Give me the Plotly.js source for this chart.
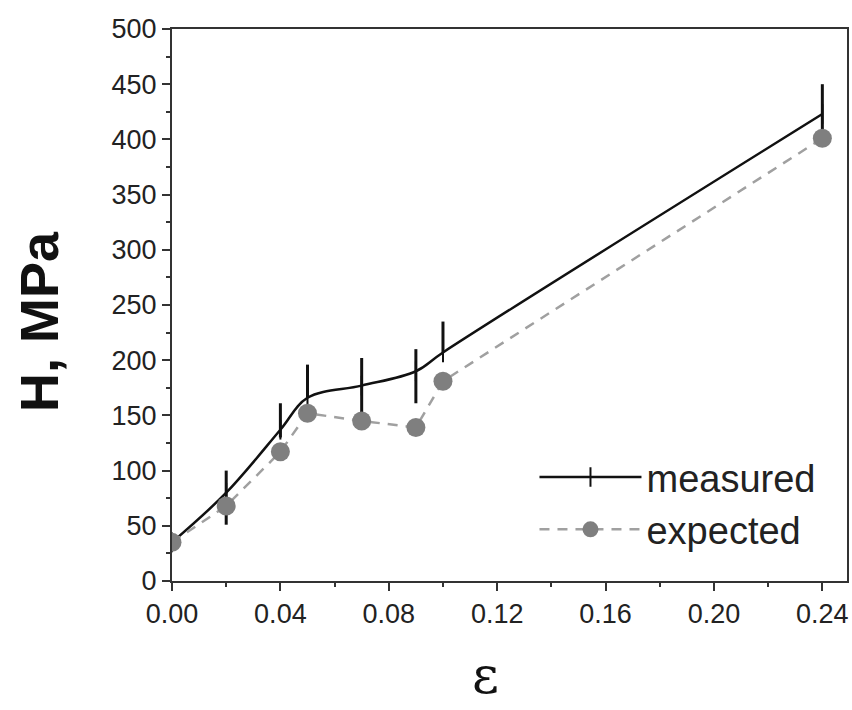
<!DOCTYPE html>
<html>
<head>
<meta charset="utf-8">
<script src="https://cdn.plot.ly/plotly-3.0.1.min.js"></script>
<style>html,body{margin:0;padding:0;background:#fff;}#chart{width:852px;height:710px;}</style>
</head>
<body>
<div id="chart"></div>
<script>
// strain values
var strain = [0.00, 0.02, 0.04, 0.05, 0.07, 0.09, 0.10, 0.24];
// measured hardness (MPa) and its error bars
var measured = [35, 80, 137, 166, 177, 190, 207, 423];
var measuredErrPlus = [0, 20, 24, 30, 25, 20, 28, 27];
var measuredErrMinus = [0, 29, 7, 0, 29, 29, 0, 24];
// expected hardness (MPa)
var expected = [35, 68, 117, 152, 145, 139, 181, 401];
// tick values
var xTicks = [0.00, 0.04, 0.08, 0.12, 0.16, 0.20, 0.24];
var yTicks = [0, 50, 100, 150, 200, 250, 300, 350, 400, 450, 500];

var traces = [
  {
    x: strain, y: measured, name: 'measured', type: 'scatter', mode: 'lines+markers',
    line: {color: '#111', width: 2.5, shape: 'spline', smoothing: 1},
    marker: {symbol: 'line-ns', size: 14, color: '#111', line: {color: '#111', width: 2}},
    error_y: {type: 'data', symmetric: false, array: measuredErrPlus, arrayminus: measuredErrMinus,
              width: 0, thickness: 3, color: '#111'}
  },
  {
    x: strain, y: expected, name: 'expected', type: 'scatter', mode: 'lines+markers',
    line: {color: '#a0a0a0', width: 2.5, dash: '10px,8px'},
    marker: {symbol: 'circle', size: 19, color: '#7f7f7f'}
  }
];

var axisCommon = {
  showgrid: false, zeroline: false, showline: true, linecolor: '#333', linewidth: 2,
  mirror: true, ticks: 'outside', ticklen: 8, tickwidth: 2, tickcolor: '#333',
  tickfont: {family: 'Liberation Sans, Arial, sans-serif', size: 27, color: '#222'}
};

var layout = {
  width: 852, height: 710,
  margin: {l: 172, r: 5, t: 29, b: 129},
  paper_bgcolor: '#fff', plot_bgcolor: '#fff',
  showlegend: true,
  legend: {
    x: 0.537, y: 0.245, xanchor: 'left', yanchor: 'top',
    bgcolor: 'rgba(0,0,0,0)', itemwidth: 102,
    font: {family: 'Liberation Sans, Arial, sans-serif', size: 38, color: '#222'}
  },
  xaxis: Object.assign({}, axisCommon, {
    range: [0, 0.2491], tickvals: xTicks, tickformat: '.2f',
    minor: {dtick: 0.02, ticks: 'outside', ticklen: 4, tickwidth: 2, tickcolor: '#333'}
  }),
  yaxis: Object.assign({}, axisCommon, {
    range: [0, 500], tickvals: yTicks,
    minor: {dtick: 25, ticks: 'outside', ticklen: 4, tickwidth: 2, tickcolor: '#333'}
  }),
  annotations: [
    {text: 'ε', xref: 'paper', yref: 'paper', x: (485 - 172) / 675, y: -(675 - 581) / 552,
     xanchor: 'center', yanchor: 'middle', showarrow: false,
     font: {family: 'DejaVu Serif, Liberation Serif, serif', size: 52, color: '#111'}},
    {text: '<b>H, MPa</b>', xref: 'paper', yref: 'paper', x: -(172 - 39) / 675, y: (581 - 322) / 552,
     xanchor: 'center', yanchor: 'middle', showarrow: false, textangle: -90,
     font: {family: 'Liberation Sans, Arial, sans-serif', size: 54, color: '#111'}}
  ]
};

Plotly.newPlot('chart', traces, layout, {displayModeBar: false, staticPlot: true});
</script>
</body>
</html>
